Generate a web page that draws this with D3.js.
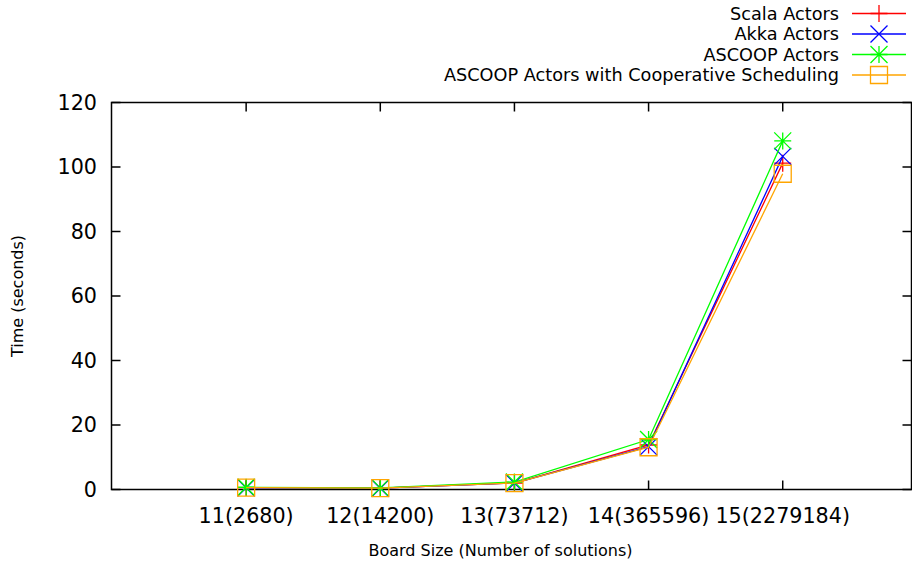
<!DOCTYPE html>
<html>
<head>
<meta charset="utf-8">
<script src="https://cdn.jsdelivr.net/npm/d3@7"></script>
<style>
  body { margin: 0; background: #fff; }
  text { font-family: "DejaVu Sans", sans-serif; fill: #000; }
</style>
</head>
<body>
<div id="chart"></div>
<script>
// board sizes and their tick labels
var boards = [11, 12, 13, 14, 15]
var boardLabels = ["11(2680)", "12(14200)", "13(73712)", "14(365596)", "15(2279184)"]
var yTicks = [0, 20, 40, 60, 80, 100, 120]

// time in seconds
var scalaActors = [0.6, 0.4, 2.0, 13.8, 101.2]
var akkaActors = [0.5, 0.4, 2.0, 13.3, 103.3]
var ascoopActors = [0.7, 0.5, 2.3, 15.5, 108.1]
var ascoopCoop = [0.6, 0.4, 2.0, 13.1, 97.9]

var seriesNames = ["Scala Actors", "Akka Actors", "ASCOOP Actors", "ASCOOP Actors with Cooperative Scheduling"]

var series = [
  {name: seriesNames[0], vals: scalaActors, color: "#ff0000", mark: "plus"},
  {name: seriesNames[1], vals: akkaActors, color: "#0000ff", mark: "cross"},
  {name: seriesNames[2], vals: ascoopActors, color: "#00ff00", mark: "star"},
  {name: seriesNames[3], vals: ascoopCoop, color: "#ffa500", mark: "square"}
]

var W = 912, H = 562
var plotLeft = 111.5, plotRight = 911.5, plotTop = 102.5, plotBottom = 489.5

var svg = d3.select("#chart").append("svg")
    .attr("width", W)
    .attr("height", H)

// gnuplot style range: x from 10, frame cut at the right edge
var x = d3.scaleLinear().domain([10, 15.96]).range([plotLeft + 0.5, plotRight])
var y = d3.scaleLinear().domain([0, 120]).range([plotBottom, plotTop])

// draws one point symbol at (cx, cy)
function marker(g, kind, cx, cy, color) {
  var s = 8.5
  var p = g.append("path")
      .attr("fill", "none")
      .attr("stroke", color)
      .attr("stroke-width", 1.3)
  if (kind == "plus") {
    p.attr("d", "M" + (cx - s) + "," + cy + "H" + (cx + s) + "M" + cx + "," + (cy - s) + "V" + (cy + s))
  } else if (kind == "cross") {
    p.attr("d", "M" + (cx - s) + "," + (cy - s) + "L" + (cx + s) + "," + (cy + s) +
      "M" + (cx - s) + "," + (cy + s) + "L" + (cx + s) + "," + (cy - s))
  } else if (kind == "star") {
    p.attr("d", "M" + (cx - s) + "," + cy + "H" + (cx + s) + "M" + cx + "," + (cy - s) + "V" + (cy + s) +
      "M" + (cx - s) + "," + (cy - s) + "L" + (cx + s) + "," + (cy + s) +
      "M" + (cx - s) + "," + (cy + s) + "L" + (cx + s) + "," + (cy - s))
  } else {
    p.attr("d", "M" + (cx - s) + "," + (cy - s) + "h" + (2 * s) + "v" + (2 * s) + "h" + (-2 * s) + "Z")
  }
}

/*
  FRAME AND TICKS
*/
var axes = svg.append("g").attr("stroke", "#000").attr("stroke-width", 1.5)

axes.append("rect")
    .attr("x", plotLeft).attr("y", plotTop)
    .attr("width", plotRight - plotLeft).attr("height", plotBottom - plotTop)
    .attr("fill", "none")

var tl = 9
boards.forEach(function(b) {
  axes.append("line").attr("x1", x(b)).attr("x2", x(b)).attr("y1", plotBottom).attr("y2", plotBottom - tl)
  axes.append("line").attr("x1", x(b)).attr("x2", x(b)).attr("y1", plotTop).attr("y2", plotTop + tl)
})
yTicks.forEach(function(t) {
  axes.append("line").attr("x1", plotLeft).attr("x2", plotLeft + tl).attr("y1", y(t)).attr("y2", y(t))
  axes.append("line").attr("x1", plotRight).attr("x2", plotRight - tl).attr("y1", y(t)).attr("y2", y(t))
})

svg.append("g").selectAll("text")
    .data(boards)
    .enter()
    .append("text")
      .attr("x", function(d) { return x(d) })
      .attr("y", 523)
      .attr("text-anchor", "middle")
      .style("font-size", "20.7px")
      .text(function(d, i) { return boardLabels[i] })

svg.append("g").selectAll("text")
    .data(yTicks)
    .enter()
    .append("text")
      .attr("x", 97)
      .attr("y", function(d) { return y(d) })
      .attr("dy", "0.36em")
      .attr("text-anchor", "end")
      .style("font-size", "20.7px")
      .text(function(d) { return d })

// axis titles
svg.append("text")
    .attr("x", (plotLeft + plotRight) / 2 - 11)
    .attr("y", 556)
    .attr("text-anchor", "middle")
    .style("font-size", "16px")
    .text("Board Size (Number of solutions)")

svg.append("text")
    .attr("transform", "translate(23," + ((plotTop + plotBottom) / 2) + ") rotate(-90)")
    .attr("text-anchor", "middle")
    .style("font-size", "16px")
    .text("Time (seconds)")

/*
  LINES AND POINTS
*/
var line = d3.line()
    .x(function(d, i) { return x(boards[i]) })
    .y(function(d) { return y(d) })

series.forEach(function(s) {
  var g = svg.append("g")
  g.append("path")
      .attr("d", line(s.vals))
      .attr("fill", "none")
      .attr("stroke", s.color)
      .attr("stroke-width", 1.3)
  s.vals.forEach(function(v, i) {
    marker(g, s.mark, x(boards[i]), y(v), s.color)
  })
})

/*
  LEGEND
*/
series.forEach(function(s, i) {
  var ly = 13.5 + i * 20.5
  var g = svg.append("g")
  g.append("text")
      .attr("x", 839)
      .attr("y", ly)
      .attr("dy", "0.36em")
      .attr("text-anchor", "end")
      .style("font-size", "17.7px")
      .text(s.name)
  g.append("line")
      .attr("x1", 852).attr("x2", 906)
      .attr("y1", ly).attr("y2", ly)
      .attr("stroke", s.color)
      .attr("stroke-width", 1.3)
  marker(g, s.mark, 879, ly, s.color)
})
</script>
</body>
</html>
